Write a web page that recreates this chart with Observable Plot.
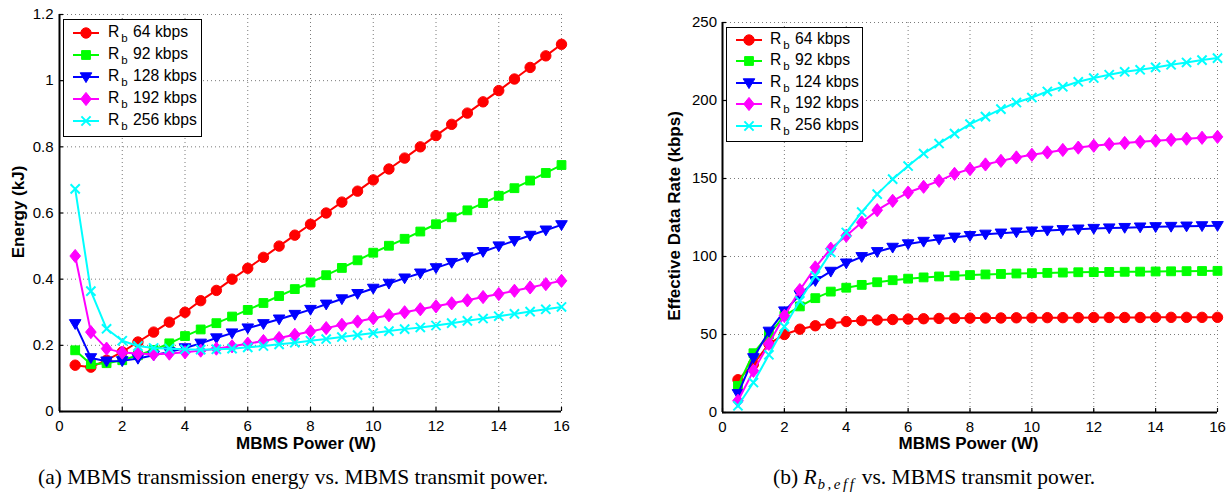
<!DOCTYPE html>
<html>
<head>
<meta charset="utf-8">
<script src="https://cdn.jsdelivr.net/npm/d3@7"></script>
<script src="https://cdn.jsdelivr.net/npm/@observablehq/plot@0.6"></script>
<style>
  html, body { margin: 0; padding: 0; background: #fff; }
  #fig { position: relative; width: 1231px; height: 493px; overflow: hidden; font-family: "Liberation Sans", Arial, sans-serif; color: #000; }
  .panel { position: absolute; top: 0; }
  .ylab { position: absolute; font-weight: bold; font-size: 17px; line-height: 1; white-space: nowrap; transform: translate(-50%, -50%) rotate(-90deg); }
  .xlab { position: absolute; font-weight: bold; font-size: 17px; line-height: 1; white-space: nowrap; transform: translateX(-50%); }
  .cap { position: absolute; font-family: "Liberation Serif", "Times New Roman", serif; font-size: 21.5px; line-height: 1; white-space: nowrap; }
  .cap .sb { font-size: 15px; vertical-align: -5px; line-height: 0; font-style: italic; letter-spacing: 2.5px; margin-left: 1px; }
  .legend { position: absolute; border: 1.3px solid #000; background: #fff; box-sizing: border-box; }
  .legend .row { position: absolute; left: 0; height: 20px; width: 100%; }
  .legend .row svg { position: absolute; left: 8px; top: 2px; }
  .legend .row .lt { position: absolute; top: 0px; font-size: 15.7px; line-height: 18px; white-space: nowrap; }
  .legend .row .lt sub { font-size: 11.5px; vertical-align: -5px; line-height: 0; margin-left: 2px; margin-right: 1px; }
</style>
</head>
<body>
<div id="fig"></div>
<script>
// ---------------- data ----------------
const power = [0.5, 1, 1.5, 2, 2.5, 3, 3.5, 4, 4.5, 5, 5.5, 6, 6.5, 7, 7.5, 8,
               8.5, 9, 9.5, 10, 10.5, 11, 11.5, 12, 12.5, 13, 13.5, 14, 14.5, 15, 15.5, 16];

const energyRates = [64, 92, 128, 192, 256];
const energy64  = [0.140, 0.134, 0.155, 0.180, 0.210, 0.240, 0.270, 0.300, 0.335, 0.366, 0.400, 0.433, 0.466, 0.500, 0.533, 0.566,
                   0.600, 0.633, 0.666, 0.700, 0.733, 0.766, 0.800, 0.834, 0.868, 0.902, 0.936, 0.970, 1.005, 1.040, 1.075, 1.110];
const energy92  = [0.185, 0.143, 0.146, 0.155, 0.170, 0.186, 0.206, 0.228, 0.248, 0.267, 0.287, 0.307, 0.328, 0.349, 0.370, 0.390,
                   0.412, 0.434, 0.457, 0.480, 0.501, 0.522, 0.544, 0.566, 0.587, 0.608, 0.630, 0.652, 0.675, 0.698, 0.721, 0.745];
const energy128 = [0.265, 0.162, 0.152, 0.153, 0.160, 0.170, 0.180, 0.192, 0.206, 0.222, 0.237, 0.252, 0.265, 0.279, 0.293, 0.308,
                   0.324, 0.340, 0.356, 0.372, 0.387, 0.403, 0.418, 0.434, 0.450, 0.467, 0.483, 0.500, 0.516, 0.532, 0.548, 0.564];
const energy192 = [0.470, 0.240, 0.190, 0.178, 0.175, 0.173, 0.175, 0.179, 0.184, 0.190, 0.197, 0.205, 0.213, 0.222, 0.232, 0.242,
                   0.252, 0.262, 0.272, 0.282, 0.291, 0.300, 0.309, 0.318, 0.327, 0.336, 0.346, 0.355, 0.365, 0.375, 0.385, 0.395];
const energy256 = [0.673, 0.364, 0.250, 0.214, 0.198, 0.192, 0.190, 0.188, 0.187, 0.188, 0.190, 0.194, 0.198, 0.203, 0.208, 0.214,
                   0.219, 0.225, 0.231, 0.237, 0.243, 0.249, 0.254, 0.260, 0.267, 0.274, 0.281, 0.288, 0.295, 0.302, 0.309, 0.316];

const rateRates = [64, 92, 124, 192, 256];
const eff64  = [21, 31, 44, 50, 53.4, 55.6, 57, 58.3, 58.9, 59.3, 59.6, 59.9, 60.1, 60.3, 60.4, 60.5,
                60.6, 60.6, 60.7, 60.7, 60.8, 60.8, 60.8, 60.9, 60.9, 60.9, 60.9, 61, 61, 61, 61, 61];
const eff92  = [17, 38, 50, 62, 68, 73.3, 77.5, 80, 81.8, 83.5, 84.8, 85.8, 86.6, 87.2, 87.7, 88.1,
                88.5, 88.8, 89.1, 89.3, 89.5, 89.7, 89.9, 90.0, 90.1, 90.2, 90.3, 90.4, 90.5, 90.6, 90.7, 90.8];
const eff124 = [12, 35, 52, 65, 75.4, 84.4, 90.4, 95.7, 99.8, 103, 105.8, 108, 109.6, 111.1, 112.3, 113.3,
                114.2, 114.9, 115.6, 116.2, 116.7, 117.1, 117.5, 117.9, 118.2, 118.5, 118.8, 119.0, 119.2, 119.4, 119.6, 119.7];
const eff192 = [7.5, 26.7, 44, 62, 78.5, 93, 105, 113.3, 121.8, 129.7, 135.7, 141, 144.7, 148.5, 153, 156,
                159, 161.3, 163.5, 165.2, 166.7, 168.3, 169.8, 171, 172, 172.8, 173.5, 174.2, 174.8, 175.5, 176.1, 176.7];
const eff256 = [4.3, 19.2, 37, 55, 71.6, 87.6, 102.6, 115.4, 128.5, 140, 149.6, 158, 166, 172.4, 178.8, 184.9,
                189.7, 194.5, 198.7, 201.9, 205.8, 208.8, 212, 214.4, 216.5, 218.4, 219.7, 221.2, 222.9, 224.4, 225.9, 227.2];

const xTicks = [0, 2, 4, 6, 8, 10, 12, 14, 16];
const energyTicks = [0, 0.2, 0.4, 0.6, 0.8, 1, 1.2];
const rateTicks = [0, 50, 100, 150, 200, 250];

// ---------------- styles ----------------
const colors = ["#ff0000", "#00ff00", "#0000ff", "#ff00ff", "#00ffff"];
const symbols = [
  {draw(c) { c.moveTo(5.2, 0); c.arc(0, 0, 5.2, 0, 2 * Math.PI); }},
  {draw(c) { c.rect(-4.4, -4.4, 8.8, 8.8); }},
  {draw(c) { c.moveTo(-5.8, -4.2); c.lineTo(5.8, -4.2); c.lineTo(0, 5.6); c.closePath(); }},
  {draw(c) { c.moveTo(0, -6.6); c.lineTo(5.3, 0); c.lineTo(0, 6.6); c.lineTo(-5.3, 0); c.closePath(); }},
  {draw(c) { c.moveTo(-4.6, -4.6); c.lineTo(4.6, 4.6); c.moveTo(4.6, -4.6); c.lineTo(-4.6, 4.6); }}
];
const hollow = [false, false, false, false, true];

function rows(values) { return power.map((x, i) => ({x, y: values[i]})); }

function panel({width, height, marginLeft, marginRight, marginTop, marginBottom, yDomain, yTicks, series, yPad}) {
  const grid = {stroke: "#7a7a7a", strokeOpacity: 1, strokeWidth: 1, strokeDasharray: "1,3"};
  const marks = [
    Plot.gridX({ticks: xTicks.filter(d => d > 0), ...grid}),
    Plot.gridY({ticks: yTicks.filter(d => d > 0), ...grid}),
    Plot.axisX({ticks: xTicks, tickSize: 0, tickPadding: 8.5, label: null, fontSize: 15, tickFormat: d => String(d)}),
    Plot.axisX({ticks: xTicks, tickSize: 4, dy: -4, label: null, tickFormat: () => "", strokeWidth: 1.2}),
    Plot.axisY({ticks: yTicks, tickSize: 0, tickPadding: yPad, label: null, fontSize: 15, tickFormat: d => String(d)}),
    Plot.axisY({ticks: yTicks, tickSize: 4, dx: 4, label: null, tickFormat: () => "", strokeWidth: 1.2}),
  ];
  series.forEach((vals, i) => {
    const data = rows(vals);
    marks.push(Plot.line(data, {x: "x", y: "y", stroke: colors[i], strokeWidth: 2}));
    marks.push(Plot.dot(data, {
      x: "x", y: "y", symbol: symbols[i],
      fill: hollow[i] ? "none" : colors[i],
      stroke: colors[i], strokeWidth: hollow[i] ? 2 : 1
    }));
  });
  marks.push(Plot.ruleX([0], {stroke: "#000", strokeWidth: 2}));
  marks.push(Plot.ruleY([0], {stroke: "#000", strokeWidth: 2}));
  return Plot.plot({
    width, height, marginLeft, marginRight, marginTop, marginBottom,
    x: {domain: [0, 16]},
    y: {domain: yDomain},
    style: {background: "transparent", fontFamily: "'Liberation Sans', Arial, sans-serif", fontSize: "15px", color: "#000", overflow: "visible"},
    marks
  });
}

const fig = document.getElementById("fig");

function place(el, left, top) {
  el.classList.add("panel");
  el.style.left = left + "px";
  el.style.top = top + "px";
  fig.appendChild(el);
}

const left = panel({
  width: 620, height: 450, marginLeft: 59, marginRight: 59, marginTop: 14, marginBottom: 39,
  yDomain: [0, 1.2], yTicks: energyTicks, yPad: 6,
  series: [energy64, energy92, energy128, energy192, energy256]
});
place(left, 0, 0);

const right = panel({
  width: 611, height: 450, marginLeft: 102, marginRight: 14, marginTop: 22, marginBottom: 38,
  yDomain: [0, 250], yTicks: rateTicks, yPad: 5.5,
  series: [eff64, eff92, eff124, eff192, eff256]
});
place(right, 620, 0);

// ---------------- labels ----------------
function addDiv(cls, html, css) {
  const d = document.createElement("div");
  d.className = cls;
  d.innerHTML = html;
  Object.assign(d.style, css);
  fig.appendChild(d);
  return d;
}
addDiv("ylab", "Energy (kJ)", {left: "17.5px", top: "212px"});
addDiv("ylab", "Effective Data Rate (kbps)", {left: "673.5px", top: "216px"});
addDiv("xlab", "MBMS Power (W)", {left: "306px", top: "434.6px"});
addDiv("xlab", "MBMS Power (W)", {left: "968.5px", top: "434.6px"});
addDiv("cap", "(a)&nbsp;MBMS transmission energy vs. MBMS transmit power.", {left: "38px", top: "466.7px"});
addDiv("cap", "(b)&nbsp;<i>R</i><span class=\"sb\">b,eff</span>&nbsp;vs. MBMS transmit power.", {left: "773px", top: "466.7px"});

// ---------------- legends ----------------
function legend(rates, box) {
  const lg = addDiv("legend", "", {left: box.left + "px", top: box.top + "px", width: box.width + "px", height: box.height + "px"});
  rates.forEach((rate, i) => {
    const row = document.createElement("div");
    row.className = "row";
    row.style.top = (box.first + box.step * i - 10) + "px";
    const svg = d3.create("svg").attr("width", 30).attr("height", 16);
    svg.append("line").attr("x1", 1).attr("x2", 27).attr("y1", 8).attr("y2", 8)
      .attr("stroke", colors[i]).attr("stroke-width", 2);
    const p = d3.path();
    symbols[i].draw(p);
    svg.append("path").attr("d", p.toString()).attr("transform", "translate(14,8)")
      .attr("fill", hollow[i] ? "none" : colors[i]).attr("stroke", colors[i]).attr("stroke-width", hollow[i] ? 2 : 1);
    row.appendChild(svg.node());
    const t = document.createElement("div");
    t.className = "lt";
    t.style.left = box.textLeft + "px";
    t.innerHTML = "R<sub>b</sub> " + rate + " kbps";
    row.appendChild(t);
    lg.appendChild(row);
  });
}
legend(energyRates, {left: 63, top: 19, width: 139, height: 118, first: 13, step: 22, textLeft: 44});
legend(rateRates, {left: 726, top: 27, width: 137, height: 115, first: 11.5, step: 21.6, textLeft: 43});
</script>
</body>
</html>
